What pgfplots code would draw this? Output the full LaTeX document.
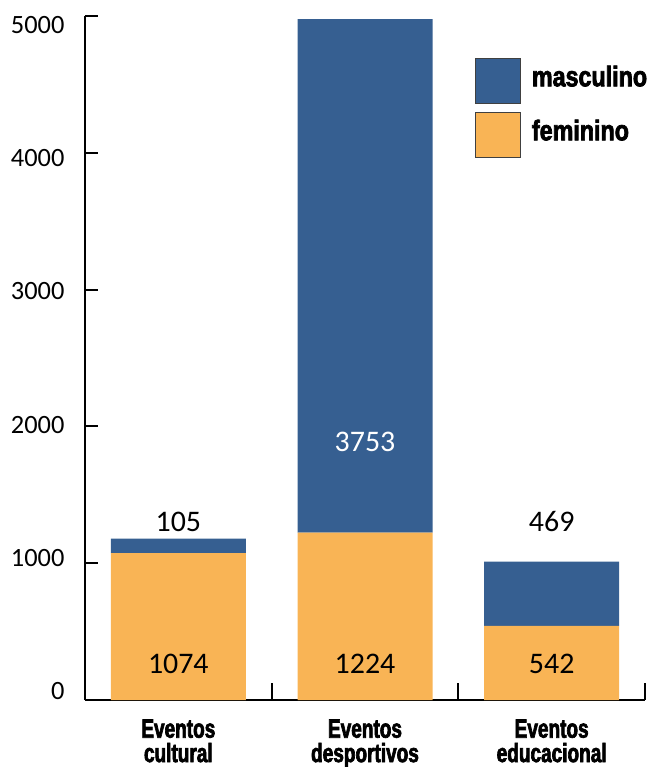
\documentclass[border=0pt]{standalone}
\usepackage{fontspec}
\setmainfont{Carlito}
\newfontfamily\catfont[FakeStretch=0.72,FakeBold=2.5]{Liberation Sans}
\newfontfamily\legfont[FakeStretch=0.82,FakeBold=2.5]{Liberation Sans}
\usepackage{pgfplots}
\pgfplotsset{compat=1.18}
\definecolor{masc}{RGB}{54,95,145}
\definecolor{fem}{RGB}{249,180,85}

\begin{document}
\begin{tikzpicture}
\useasboundingbox (-85bp,-67bp) rectangle (572bp,700bp);
\begin{axis}[
  at={(0,0)}, anchor=south west,
  scale only axis, width=560bp, height=684bp,
  xmin=-0.5, xmax=2.5, ymin=0, ymax=5000,
  ybar stacked, bar width=135bp,
  axis lines=left, axis line style={-, line width=2.2bp, black},
  tick align=inside,
  xtick={0,1,2},
  xticklabels={{Eventos\\cultural},{Eventos\\desportivos},{Eventos\\educacional}},
  xticklabel style={align=center, font=\catfont\bfseries\fontsize{26.5}{24.5}\selectfont, yshift=-16bp},
  major x tick style={draw=none},
  minor xtick={0.5,1.5,2.5},
  minor tick length=17bp,
  minor x tick style={line width=2bp, black},
  ytick={0,1000,2000,3000,4000,5000},
  major tick length=13bp,
  y tick style={line width=2bp, black},
  scaled y ticks=false,
  yticklabel style={/pgf/number format/1000 sep={}, /pgf/number format/assume math mode=true,
    font=\fontsize{26.5}{26.5}\selectfont, xshift=-17bp, yshift={(9-3.6*\ticknum)*1bp}},
  reverse legend,
  legend cell align=left,
  legend style={at={(rel axis cs:0.696,0.9385)}, anchor=north west,
    draw=none, fill=none, inner sep=0pt, row sep=8bp, column sep=9bp,
    font=\legfont\bfseries\fontsize{28.5}{28.5}\selectfont},
  sq legend/.style={legend image code/.code={
    \draw[##1, draw=black!75, line width=1bp] (0bp,-27bp) rectangle (45bp,18bp);}},
]
\addplot[fill=fem, draw=none, sq legend] coordinates {(0,1074) (1,1224) (2,542)};
\addlegendentry{feminino}
\addplot[fill=masc, draw=none, sq legend] coordinates {(0,105) (1,3753) (2,469)};
\addlegendentry{masculino}

% anchor points for the value labels
\coordinate (f0) at (axis cs:0,267);
\coordinate (f1) at (axis cs:1,267);
\coordinate (f2) at (axis cs:2,267);
\coordinate (m0) at (axis cs:0,1305);
\coordinate (m1) at (axis cs:1,1889);
\coordinate (m2) at (axis cs:2,1305);
\end{axis}
\begin{scope}[every node/.style={font=\fontsize{30}{30}\selectfont}]
\node at (f0) {1074};
\node at (f1) {1224};
\node at (f2) {542};
\node at (m0) {105};
\node[text=white] at (m1) {3753};
\node at (m2) {469};
\end{scope}
\end{tikzpicture}
\end{document}
